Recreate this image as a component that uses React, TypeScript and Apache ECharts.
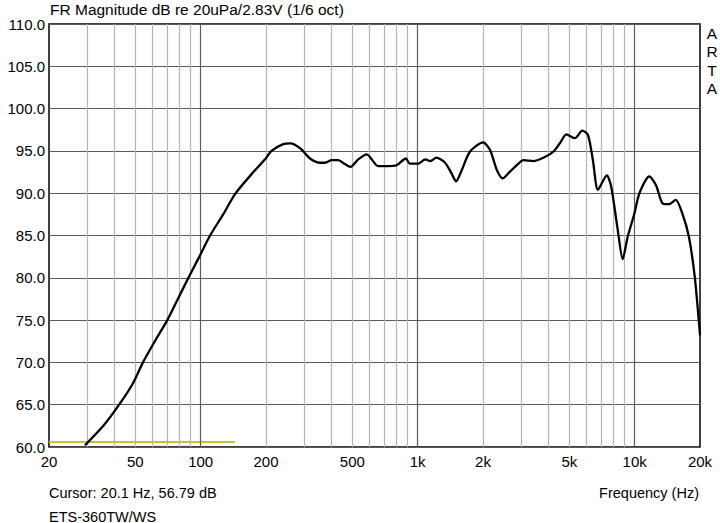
import React, { useRef, useEffect } from 'react'
import * as echarts from 'echarts'

// frequency response
const freqHz = [
  29.3, 35.6, 42.1, 48.7, 54.2, 61.5, 70.2, 78.5, 87.8, 98.6, 110.5, 127, 145, 175, 198, 212,
  240, 259, 288, 319, 355, 374, 401, 430, 461, 490, 532, 582, 658, 720, 800,
  882, 920, 1008, 1084, 1144, 1220, 1338, 1432, 1502, 1598, 1740, 2004, 2156, 2316,
  2466, 2664, 2914, 3070, 3412, 3792, 4214, 4520, 4846, 5298, 5740, 6092, 6420,
  6772, 7440, 7792, 8352, 8806, 9286, 9972, 10514, 11680, 12540, 13440, 14420,
  15460, 16580, 17780, 18920, 19860, 20000,
]
const magDb = [
  60.2, 62.5, 65.0, 67.5, 70.0, 72.5, 75.0, 77.5, 80.0, 82.5, 85.0, 87.5, 90.0, 92.5, 94.0, 95.0,
  95.8, 95.9, 95.3, 94.1, 93.6, 93.6, 93.9, 93.9, 93.45, 93.1, 94.0, 94.6, 93.2, 93.2, 93.3,
  94.1, 93.5, 93.5, 94.0, 93.8, 94.2, 93.6, 92.35, 91.4, 92.75, 94.9, 96.0, 95.1, 92.75,
  91.75, 92.55, 93.5, 93.9, 93.8, 94.2, 94.9, 95.9, 96.96, 96.5, 97.4, 96.9, 93.9,
  90.4, 92.1, 90.8, 85.7, 82.2, 84.85, 87.6, 90.0, 92.0, 90.95, 88.8, 88.7,
  89.2, 87.6, 84.85, 80.1, 74.2, 73.2,
]

// cursor marker line
const cursorFreq = [20, 144]
const cursorDb = [60.6, 60.6]

const minorGrid = [
  30, 40, 50, 60, 70, 80, 90,
  200, 300, 400, 500, 600, 700, 800, 900,
  2000, 3000, 4000, 5000, 6000, 7000, 8000, 9000,
]
const decadeGrid = [100, 1000, 10000]
const tickValues = [20, 50, 100, 200, 500, 1000, 2000, 5000, 10000, 20000]
const tickLabels = ['20', '50', '100', '200', '500', '1k', '2k', '5k', '10k', '20k']

const FONT = '"Liberation Sans", Arial, sans-serif'

const App: React.FC = () => {
  const chartRef = useRef<HTMLDivElement>(null)

  useEffect(() => {
    if (!chartRef.current) return
    const chart = echarts.init(chartRef.current, undefined, { renderer: 'svg' })

    const markData: any[] = []
    minorGrid.forEach(v => {
      markData.push({ xAxis: v, lineStyle: { color: '#b4b4b4', width: 1.2, type: 'solid' }, label: { show: false } })
    })
    decadeGrid.forEach(v => {
      markData.push({ xAxis: v, lineStyle: { color: '#5a5a5a', width: 1.2, type: 'solid' }, label: { show: false } })
    })
    // tick labels under the plot
    tickValues.forEach((v, i) => {
      markData.push({
        xAxis: v,
        name: tickLabels[i],
        lineStyle: { color: 'rgba(0,0,0,0)', width: 1 },
        label: {
          show: true,
          position: 'start',
          formatter: '{b}',
          distance: 7,
          color: '#000',
          fontSize: 15,
          fontFamily: FONT,
        },
      })
    })

    chart.setOption({
      animation: false,
      backgroundColor: '#fff',
      grid: {
        left: 49,
        right: 20,
        top: 24,
        bottom: 76,
        show: true,
        borderColor: '#000',
        borderWidth: 1.5,
        backgroundColor: 'transparent',
      },
      xAxis: {
        type: 'log',
        logBase: 10,
        min: 20,
        max: 20000,
        axisLine: { show: false },
        axisTick: { show: false },
        axisLabel: { show: false },
        splitLine: { show: false },
        minorSplitLine: { show: false },
      },
      yAxis: {
        type: 'value',
        min: 60,
        max: 110,
        interval: 5,
        axisLine: { show: false },
        axisTick: { show: false },
        axisLabel: {
          color: '#000',
          fontSize: 15,
          fontFamily: FONT,
          margin: 4,
          formatter: (v: number) => v.toFixed(1),
        },
        splitLine: { lineStyle: { color: '#5a5a5a', width: 1.2 } },
      },
      graphic: [
        {
          type: 'text',
          left: 50,
          top: 1,
          style: { text: 'FR Magnitude dB re 20uPa/2.83V (1/6 oct)', fontSize: 15.5, fontFamily: FONT, fill: '#000' },
        },
        {
          type: 'text',
          x: 712,
          y: 24,
          style: {
            text: 'A\nR\nT\nA',
            fontSize: 15.5,
            lineHeight: 18.5,
            fontFamily: FONT,
            fill: '#000',
            align: 'center',
          },
        },
        {
          type: 'text',
          x: 49,
          y: 485,
          style: { text: 'Cursor: 20.1 Hz, 56.79 dB', fontSize: 14.5, fontFamily: FONT, fill: '#000' },
        },
        {
          type: 'text',
          x: 49,
          y: 509,
          style: { text: 'ETS-360TW/WS', fontSize: 14.5, fontFamily: FONT, fill: '#000' },
        },
        {
          type: 'text',
          x: 699,
          y: 485,
          style: { text: 'Frequency (Hz)', fontSize: 14.5, fontFamily: FONT, fill: '#000', align: 'right' },
        },
      ],
      series: [
        {
          name: 'cursor',
          type: 'line',
          data: cursorFreq.map((f, i) => [f, cursorDb[i]]),
          symbol: 'none',
          silent: true,
          lineStyle: { color: '#c9c232', width: 2 },
          z: 3,
          markLine: {
            silent: true,
            symbol: ['none', 'none'],
            animation: false,
            data: markData,
          },
        },
        {
          name: 'FR',
          type: 'line',
          data: freqHz.map((f, i) => [f, magDb[i]]),
          symbol: 'none',
          smooth: 0.25,
          clip: true,
          lineStyle: { color: '#000', width: 2.3 },
          z: 5,
        },
      ],
    })

    return () => {
      chart.dispose()
    }
  }, [])

  return (
    <div
      ref={chartRef}
      style={{ position: 'absolute', left: 0, top: 0, width: '720px', height: '523px' }}
    />
  )
}

export default App
